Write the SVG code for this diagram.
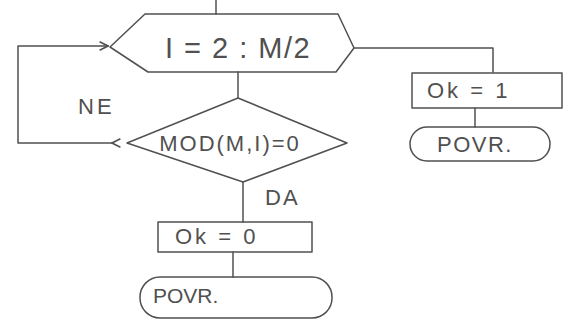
<svg xmlns="http://www.w3.org/2000/svg" width="573" height="325" viewBox="0 0 573 325">
<defs>
<style>
.s{fill:none;stroke:#505050;stroke-width:1.5;stroke-linecap:round;stroke-linejoin:round}
.t{font-family:"Liberation Sans",Arial,sans-serif;fill:#505050;font-size:20px}
</style>
<marker id="ah" viewBox="0 0 10 10" refX="9" refY="5" markerWidth="7" markerHeight="7" orient="auto">
<path d="M1,1 L9,5 L1,9" fill="none" stroke="#505050" stroke-width="1.5"/>
</marker>
</defs>
<rect width="573" height="325" fill="#fff"/>
<g id="connectors" class="s">
<path d="M216,0 V14"/>
<path d="M112,143 H18 V46 H108" marker-start="url(#ah)" marker-end="url(#ah)"/>
<path d="M354,48 H493 V72"/>
<path d="M238,72 V98"/>
<path d="M475,108 V127"/>
<path d="M243,182 V222"/>
<path d="M233,252 V277"/>
</g>
<g id="loop">
<path class="s" d="M145,14 H338 L354,48 L336,72 H148 L110,47 Z"/>
<text class="t" x="238" y="58" text-anchor="middle" style="font-size:29px;letter-spacing:1.5px">I = 2 : M/2</text>
</g>
<g id="cond">
<path class="s" d="M238,98 L347,143 L243,182 L127,143 Z"/>
<text class="t" x="230" y="151" text-anchor="middle" style="font-size:22px;letter-spacing:2px">MOD(M,I)=0</text>
</g>
<g id="ok1">
<rect class="s" x="412" y="73" width="150" height="35"/>
<text class="t" x="427" y="98" style="font-size:22px;letter-spacing:3px">Ok = 1</text>
</g>
<g id="end1">
<rect class="s" x="410" y="127" width="140" height="34" rx="17"/>
<text class="t" x="437" y="152" style="font-size:22px;letter-spacing:1.5px">POVR.</text>
</g>
<g id="ok0">
<rect class="s" x="158" y="222" width="154" height="30"/>
<text class="t" x="175" y="244" style="font-size:22px;letter-spacing:3px">Ok = 0</text>
</g>
<g id="end2">
<rect class="s" x="140" y="277" width="192" height="41" rx="20"/>
<text class="t" x="153" y="303" style="font-size:21px">POVR.</text>
</g>
<text class="t" x="78" y="114" style="font-size:22px;letter-spacing:3px">NE</text>
<text class="t" x="265" y="205" style="font-size:22px;letter-spacing:2px">DA</text>
</svg>
